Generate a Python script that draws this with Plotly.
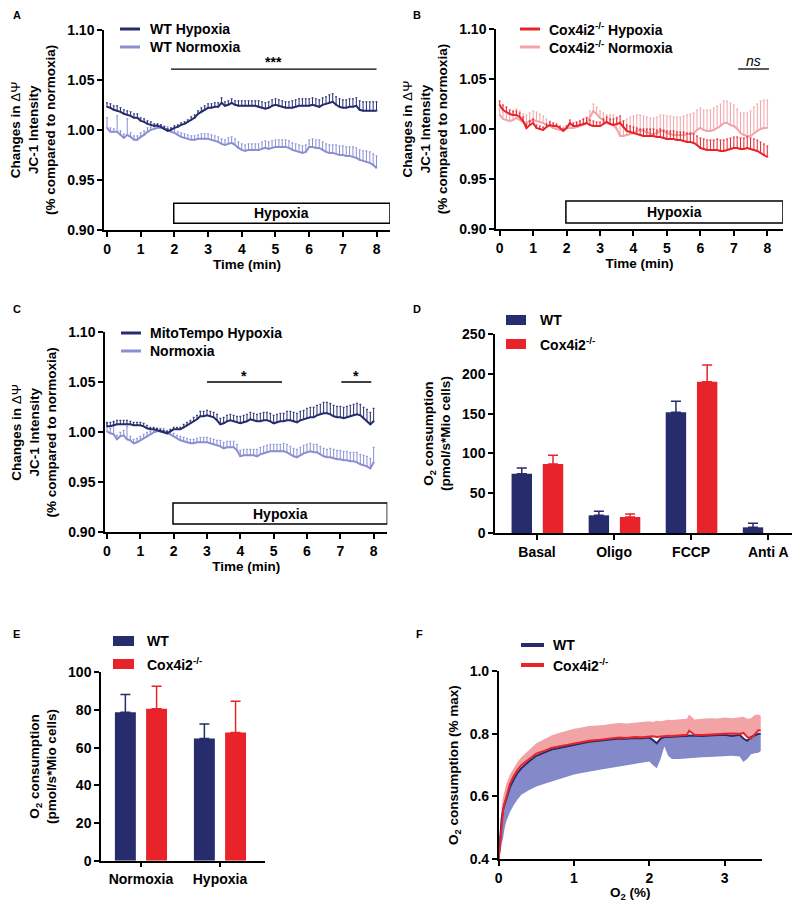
import plotly.graph_objects as go

FONT = "Arial, Liberation Sans, sans-serif"
NAVY = "#262c6c"
LIGHT = "#8a8fd2"
RED = "#e8232a"
PINK = "#f4a3a8"

# ---------------- data ----------------
TIME = [round(i * 0.1, 1) for i in range(81)]

A_HYP = [1.023, 1.022, 1.020, 1.019, 1.018, 1.016, 1.015, 1.014, 1.012, 1.012,
         1.009, 1.008, 1.006, 1.005, 1.004, 1.004, 1.003, 1.001, 0.999, 1.000,
         1.002, 1.003, 1.005, 1.006, 1.008, 1.010, 1.012, 1.016, 1.018, 1.020,
         1.022, 1.022, 1.023, 1.023, 1.027, 1.024, 1.025, 1.027, 1.025, 1.024,
         1.024, 1.024, 1.024, 1.024, 1.024, 1.023, 1.022, 1.021, 1.022, 1.024,
         1.025, 1.024, 1.023, 1.022, 1.022, 1.022, 1.023, 1.024, 1.024, 1.024,
         1.024, 1.025, 1.024, 1.023, 1.025, 1.026, 1.027, 1.028, 1.025, 1.023,
         1.022, 1.022, 1.023, 1.023, 1.024, 1.020, 1.019, 1.019, 1.019, 1.019,
         1.019]
A_HYP_ERR = [0.004, 0.004, 0.004, 0.005, 0.004, 0.004, 0.004, 0.004, 0.004, 0.004,
             0.003, 0.003, 0.003, 0.003, 0.002, 0.002, 0.002, 0.002, 0.002, 0.002,
             0.002, 0.002, 0.002, 0.002, 0.002, 0.003, 0.003, 0.003, 0.004, 0.004,
             0.004, 0.004, 0.004, 0.004, 0.005, 0.004, 0.004, 0.004, 0.004, 0.005,
             0.005, 0.005, 0.005, 0.005, 0.005, 0.006, 0.006, 0.006, 0.006, 0.006,
             0.006, 0.006, 0.006, 0.006, 0.006, 0.007, 0.007, 0.007, 0.007, 0.007,
             0.007, 0.007, 0.007, 0.007, 0.007, 0.007, 0.008, 0.008, 0.008, 0.008,
             0.008, 0.008, 0.008, 0.008, 0.008, 0.009, 0.009, 0.009, 0.009, 0.009,
             0.009]
A_NORM = [1.002, 0.998, 0.998, 0.998, 0.995, 0.992, 0.995, 0.993, 0.990, 0.990,
          0.993, 0.995, 0.998, 1.000, 1.001, 1.002, 1.002, 1.001, 1.000, 0.998,
          0.997, 0.995, 0.993, 0.992, 0.991, 0.990, 0.990, 0.991, 0.991, 0.991,
          0.991, 0.990, 0.989, 0.988, 0.986, 0.985, 0.986, 0.987, 0.985, 0.982,
          0.980, 0.979, 0.980, 0.980, 0.980, 0.980, 0.981, 0.982, 0.981, 0.982,
          0.983, 0.983, 0.983, 0.983, 0.982, 0.980, 0.979, 0.978, 0.977, 0.978,
          0.983, 0.983, 0.982, 0.982, 0.980, 0.978, 0.977, 0.977, 0.976, 0.975,
          0.975, 0.974, 0.974, 0.973, 0.972, 0.970, 0.969, 0.968, 0.967, 0.965,
          0.962]
A_NORM_ERR = [0.010, 0.004, 0.003, 0.016, 0.004, 0.004, 0.016, 0.004, 0.004, 0.004,
              0.004, 0.004, 0.004, 0.003, 0.003, 0.003, 0.003, 0.003, 0.003, 0.003,
              0.003, 0.003, 0.004, 0.004, 0.004, 0.004, 0.004, 0.004, 0.005, 0.005,
              0.005, 0.005, 0.005, 0.005, 0.005, 0.005, 0.006, 0.006, 0.006, 0.006,
              0.006, 0.006, 0.006, 0.006, 0.006, 0.006, 0.007, 0.007, 0.007, 0.007,
              0.007, 0.007, 0.007, 0.007, 0.007, 0.007, 0.007, 0.007, 0.007, 0.007,
              0.007, 0.008, 0.008, 0.008, 0.008, 0.008, 0.008, 0.008, 0.009, 0.009,
              0.009, 0.009, 0.009, 0.010, 0.010, 0.010, 0.010, 0.011, 0.011, 0.011,
              0.012]

B_HYP = [1.024, 1.019, 1.017, 1.015, 1.014, 1.014, 1.012, 1.008, 1.001, 1.004,
         1.006, 1.001, 1.000, 0.999, 1.002, 1.004, 1.003, 1.003, 1.001, 0.998,
         1.001, 1.006, 1.003, 1.003, 1.004, 1.005, 1.006, 1.004, 1.003, 1.003,
         1.003, 1.005, 1.007, 1.005, 1.004, 1.005, 1.006, 1.002, 0.998, 0.997,
         0.996, 0.995, 0.994, 0.993, 0.993, 0.993, 0.993, 0.992, 0.992, 0.991,
         0.990, 0.990, 0.990, 0.989, 0.989, 0.988, 0.987, 0.987, 0.986, 0.984,
         0.981, 0.980, 0.979, 0.979, 0.979, 0.979, 0.978, 0.978, 0.979, 0.980,
         0.981, 0.981, 0.980, 0.980, 0.981, 0.980, 0.979, 0.978, 0.976, 0.974,
         0.972]
B_HYP_ERR = [0.004, 0.005, 0.005, 0.004, 0.004, 0.004, 0.004, 0.004, 0.004, 0.004,
             0.004, 0.003, 0.003, 0.003, 0.003, 0.003, 0.003, 0.002, 0.002, 0.002,
             0.002, 0.003, 0.003, 0.004, 0.004, 0.005, 0.005, 0.005, 0.005, 0.004,
             0.004, 0.005, 0.005, 0.005, 0.006, 0.006, 0.007, 0.006, 0.006, 0.006,
             0.006, 0.006, 0.006, 0.007, 0.007, 0.007, 0.007, 0.007, 0.008, 0.008,
             0.008, 0.008, 0.008, 0.008, 0.008, 0.009, 0.009, 0.009, 0.009, 0.009,
             0.010, 0.010, 0.010, 0.010, 0.010, 0.011, 0.011, 0.011, 0.011, 0.011,
             0.011, 0.011, 0.011, 0.011, 0.011, 0.011, 0.011, 0.011, 0.011, 0.011,
             0.011]
B_NORM = [1.014, 1.010, 1.009, 1.008, 1.009, 1.011, 1.009, 1.007, 1.006, 1.008,
          1.009, 1.008, 1.007, 1.006, 1.004, 1.003, 1.001, 1.000, 0.999, 1.000,
          1.001, 1.001, 1.001, 1.002, 1.003, 1.004, 1.006, 1.012, 1.018, 1.015,
          1.011, 1.009, 1.006, 1.005, 1.004, 1.000, 0.993, 0.993, 0.994, 0.995,
          0.996, 0.998, 0.999, 0.998, 0.997, 0.995, 0.995, 0.996, 0.998, 0.998,
          0.996, 0.995, 0.994, 0.994, 0.994, 0.994, 0.995, 0.995, 0.996, 0.999,
          1.001, 0.999, 0.998, 0.998, 0.999, 1.001, 1.003, 1.006, 1.006, 1.004,
          1.003, 1.000, 0.996, 0.994, 0.993, 0.993, 0.996, 0.998, 1.000, 1.001,
          1.001]
B_NORM_ERR = [0.007, 0.007, 0.008, 0.008, 0.008, 0.009, 0.009, 0.008, 0.008, 0.008,
              0.009, 0.009, 0.008, 0.007, 0.006, 0.005, 0.004, 0.003, 0.002, 0.002,
              0.002, 0.003, 0.003, 0.004, 0.005, 0.006, 0.006, 0.006, 0.007, 0.007,
              0.007, 0.007, 0.008, 0.009, 0.010, 0.012, 0.014, 0.015, 0.016, 0.017,
              0.017, 0.016, 0.015, 0.015, 0.015, 0.016, 0.016, 0.016, 0.016, 0.016,
              0.017, 0.018, 0.018, 0.018, 0.018, 0.019, 0.019, 0.020, 0.020, 0.020,
              0.020, 0.020, 0.021, 0.021, 0.022, 0.022, 0.022, 0.022, 0.022, 0.022,
              0.021, 0.020, 0.020, 0.022, 0.023, 0.025, 0.026, 0.027, 0.028, 0.028,
              0.028]

C_HYP = [1.006, 1.006, 1.007, 1.008, 1.008, 1.008, 1.008, 1.008, 1.007, 1.007,
         1.007, 1.006, 1.004, 1.003, 1.003, 1.002, 1.001, 1.000, 0.999, 1.001,
         1.003, 1.003, 1.003, 1.005, 1.007, 1.009, 1.011, 1.013, 1.016, 1.016,
         1.017, 1.016, 1.015, 1.012, 1.008, 1.009, 1.011, 1.012, 1.011, 1.010,
         1.009, 1.010, 1.011, 1.013, 1.012, 1.011, 1.011, 1.012, 1.012, 1.011,
         1.009, 1.010, 1.011, 1.011, 1.012, 1.012, 1.011, 1.010, 1.012, 1.013,
         1.014, 1.015, 1.015, 1.017, 1.018, 1.019, 1.019, 1.018, 1.016, 1.015,
         1.015, 1.014, 1.015, 1.016, 1.017, 1.018, 1.017, 1.014, 1.011, 1.008,
         1.011]
C_HYP_ERR = [0.004, 0.004, 0.004, 0.004, 0.004, 0.004, 0.004, 0.003, 0.003, 0.003,
             0.003, 0.003, 0.003, 0.002, 0.002, 0.002, 0.002, 0.002, 0.002, 0.002,
             0.002, 0.002, 0.002, 0.003, 0.003, 0.003, 0.004, 0.004, 0.005, 0.005,
             0.005, 0.005, 0.005, 0.006, 0.006, 0.006, 0.006, 0.006, 0.006, 0.006,
             0.007, 0.007, 0.007, 0.007, 0.007, 0.007, 0.008, 0.008, 0.008, 0.008,
             0.008, 0.008, 0.008, 0.008, 0.009, 0.009, 0.009, 0.009, 0.009, 0.009,
             0.010, 0.010, 0.010, 0.010, 0.010, 0.011, 0.011, 0.011, 0.011, 0.011,
             0.011, 0.011, 0.011, 0.011, 0.011, 0.011, 0.011, 0.011, 0.012, 0.012,
             0.013]
C_NORM = [1.001, 0.999, 0.998, 0.993, 0.996, 0.997, 0.993, 0.992, 0.989, 0.990,
          0.992, 0.994, 0.996, 0.998, 1.000, 1.001, 1.001, 1.001, 0.999, 0.998,
          0.996, 0.994, 0.992, 0.991, 0.990, 0.989, 0.989, 0.990, 0.990, 0.990,
          0.990, 0.989, 0.988, 0.987, 0.986, 0.984, 0.985, 0.985, 0.985, 0.982,
          0.976, 0.977, 0.977, 0.977, 0.977, 0.976, 0.978, 0.979, 0.980, 0.981,
          0.981, 0.981, 0.981, 0.981, 0.980, 0.978, 0.976, 0.975, 0.977, 0.979,
          0.980, 0.981, 0.980, 0.980, 0.978, 0.976, 0.975, 0.975, 0.974, 0.973,
          0.973, 0.972, 0.972, 0.971, 0.971, 0.970, 0.968, 0.967, 0.966, 0.964,
          0.970]
C_NORM_ERR = [0.008, 0.005, 0.012, 0.004, 0.004, 0.005, 0.013, 0.004, 0.004, 0.004,
              0.004, 0.004, 0.004, 0.003, 0.003, 0.003, 0.003, 0.003, 0.003, 0.003,
              0.003, 0.003, 0.004, 0.004, 0.004, 0.004, 0.004, 0.004, 0.005, 0.005,
              0.005, 0.005, 0.005, 0.005, 0.006, 0.006, 0.006, 0.006, 0.006, 0.006,
              0.006, 0.006, 0.006, 0.006, 0.006, 0.007, 0.007, 0.007, 0.007, 0.007,
              0.007, 0.007, 0.007, 0.008, 0.008, 0.008, 0.008, 0.008, 0.008, 0.008,
              0.008, 0.008, 0.008, 0.008, 0.008, 0.008, 0.008, 0.009, 0.009, 0.009,
              0.009, 0.009, 0.009, 0.009, 0.009, 0.010, 0.010, 0.010, 0.010, 0.010,
              0.015]

D_CATS = ["Basal", "Oligo", "FCCP", "Anti A"]
D_WT = [74.5, 22.2, 151.6, 7.1]
D_WT_ERR = [7.2, 5.0, 13.8, 5.1]
D_KO = [86.7, 20.1, 190.0, None]
D_KO_ERR = [10.9, 3.8, 21.0, None]

E_CATS = ["Normoxia", "Hypoxia"]
E_WT = [78.8, 64.8]
E_WT_ERR = [9.4, 7.8]
E_KO = [80.7, 68.1]
E_KO_ERR = [11.9, 16.5]

F_O2 = [0, 0.02, 0.04, 0.06, 0.08, 0.1, 0.15, 0.2, 0.25, 0.3, 0.4, 0.5, 0.6, 0.7,
        0.8, 0.9, 1.0, 1.1, 1.2, 1.3, 1.4, 1.5, 1.6, 1.7, 1.8, 1.9, 2.0, 2.05,
        2.1, 2.15, 2.2, 2.25, 2.3, 2.4, 2.5, 2.53, 2.6, 2.7, 2.8, 2.9, 3.0,
        3.1, 3.2, 3.25, 3.3, 3.35, 3.4, 3.45, 3.48]
F_KO = [0.40, 0.45, 0.52, 0.56, 0.58, 0.60, 0.64, 0.665, 0.685, 0.70, 0.72, 0.737,
        0.745, 0.755, 0.76, 0.765, 0.77, 0.774, 0.778, 0.78, 0.782, 0.785, 0.788,
        0.787, 0.79, 0.789, 0.792, 0.792, 0.79, 0.792, 0.793, 0.794, 0.793, 0.795,
        0.797, 0.81, 0.797, 0.796, 0.798, 0.799, 0.80, 0.801, 0.80, 0.803, 0.79,
        0.785, 0.80, 0.812, 0.81]
F_KO_UP = [0.42, 0.50, 0.57, 0.60, 0.62, 0.64, 0.67, 0.69, 0.71, 0.725, 0.748, 0.77,
           0.782, 0.795, 0.803, 0.81, 0.816, 0.82, 0.825, 0.827, 0.828, 0.832, 0.835,
           0.833, 0.836, 0.838, 0.84, 0.838, 0.842, 0.84, 0.843, 0.845, 0.844, 0.845,
           0.848, 0.862, 0.846, 0.848, 0.85, 0.849, 0.852, 0.85, 0.853, 0.855, 0.848,
           0.85, 0.86, 0.862, 0.858]
F_WT = [0.40, 0.47, 0.53, 0.56, 0.575, 0.59, 0.63, 0.655, 0.675, 0.69, 0.712, 0.73,
        0.74, 0.75, 0.755, 0.76, 0.765, 0.77, 0.775, 0.777, 0.78, 0.782, 0.785,
        0.784, 0.787, 0.786, 0.788, 0.78, 0.77, 0.785, 0.79, 0.79, 0.79, 0.792,
        0.793, 0.795, 0.794, 0.793, 0.795, 0.795, 0.797, 0.793, 0.797, 0.785, 0.778,
        0.79, 0.795, 0.80, 0.80]
F_WT_LO = [0.40, 0.42, 0.44, 0.47, 0.50, 0.52, 0.55, 0.573, 0.59, 0.605, 0.62, 0.632,
           0.64, 0.648, 0.655, 0.662, 0.67, 0.675, 0.68, 0.684, 0.688, 0.692, 0.697,
           0.70, 0.704, 0.708, 0.712, 0.70, 0.69, 0.72, 0.76, 0.73, 0.72, 0.72,
           0.722, 0.723, 0.724, 0.725, 0.726, 0.727, 0.728, 0.73, 0.728, 0.71, 0.72,
           0.735, 0.738, 0.74, 0.745]

# ---------------- figure ----------------
fig = go.Figure()


def ts_trace(y, err, color, xa, ya):
    return go.Scatter(
        x=TIME, y=y, mode="lines", xaxis=xa, yaxis=ya, showlegend=False,
        line=dict(color=color, width=2),
        error_y=dict(type="data", symmetric=False, array=err,
                     arrayminus=[0] * len(err), color=color, thickness=1, width=1),
    )


fig.add_trace(ts_trace(A_NORM, A_NORM_ERR, LIGHT, "x", "y"))
fig.add_trace(ts_trace(A_HYP, A_HYP_ERR, NAVY, "x", "y"))
fig.add_trace(ts_trace(B_NORM, B_NORM_ERR, PINK, "x2", "y2"))
fig.add_trace(ts_trace(B_HYP, B_HYP_ERR, RED, "x2", "y2"))
fig.add_trace(ts_trace(C_NORM, C_NORM_ERR, LIGHT, "x3", "y3"))
fig.add_trace(ts_trace(C_HYP, C_HYP_ERR, NAVY, "x3", "y3"))


def bar_trace(cats, vals, errs, color, off, xa, ya):
    return go.Bar(
        x=cats, y=vals, xaxis=xa, yaxis=ya, showlegend=False,
        marker=dict(color=color, line=dict(width=0)), width=0.265, offset=off,
        error_y=dict(type="data", symmetric=False, array=errs,
                     arrayminus=[0] * len(errs), color=color, thickness=1.5, width=5),
    )


fig.add_trace(bar_trace(D_CATS, D_WT, D_WT_ERR, NAVY, -0.33, "x4", "y4"))
fig.add_trace(bar_trace(D_CATS, D_KO, D_KO_ERR, RED, 0.075, "x4", "y4"))
fig.add_trace(bar_trace(E_CATS, E_WT, E_WT_ERR, NAVY, -0.33, "x5", "y5"))
fig.add_trace(bar_trace(E_CATS, E_KO, E_KO_ERR, RED, 0.065, "x5", "y5"))

# panel F bands and lines
fig.add_trace(go.Scatter(x=F_O2, y=F_KO_UP, mode="lines", line=dict(width=0, color=PINK),
                         xaxis="x6", yaxis="y6", showlegend=False, hoverinfo="skip"))
fig.add_trace(go.Scatter(x=F_O2, y=F_KO, mode="lines", line=dict(width=0, color=PINK),
                         fill="tonexty", fillcolor="#f2a3a6",
                         xaxis="x6", yaxis="y6", showlegend=False, hoverinfo="skip"))
fig.add_trace(go.Scatter(x=F_O2, y=F_WT_LO, mode="lines", line=dict(width=0, color=LIGHT),
                         xaxis="x6", yaxis="y6", showlegend=False, hoverinfo="skip"))
fig.add_trace(go.Scatter(x=F_O2, y=F_WT, mode="lines", line=dict(width=0, color=LIGHT),
                         fill="tonexty", fillcolor="#8489c9",
                         xaxis="x6", yaxis="y6", showlegend=False, hoverinfo="skip"))
fig.add_trace(go.Scatter(x=F_O2, y=F_WT, mode="lines", line=dict(width=2, color=NAVY),
                         xaxis="x6", yaxis="y6", showlegend=False, name="WT"))
fig.add_trace(go.Scatter(x=F_O2, y=F_KO, mode="lines", line=dict(width=2, color=RED),
                         xaxis="x6", yaxis="y6", showlegend=False, name="Cox4i2-/-"))

# ---------------- axes ----------------
TICKFONT = dict(family=FONT, size=14, color="black", weight="bold")
TITLEFONT = dict(family=FONT, size=13.5, color="black", weight="bold")


def xax(domain, rng, anchor, title=None, standoff=4, **kw):
    d = dict(domain=domain, range=rng, anchor=anchor, showline=True, linecolor="black",
             linewidth=1.5, ticks="outside", ticklen=5, tickwidth=1.5, tickcolor="black",
             showgrid=False, zeroline=False, tickfont=TICKFONT, automargin=False)
    if title:
        d["title"] = dict(text=title, font=TITLEFONT, standoff=standoff)
    d.update(kw)
    return d


def yax(domain, rng, anchor, title, standoff=8, **kw):
    d = dict(domain=domain, range=rng, anchor=anchor, showline=True, linecolor="black",
             linewidth=1.5, ticks="outside", ticklen=5, tickwidth=1.5, tickcolor="black",
             showgrid=False, zeroline=False, tickfont=TICKFONT, automargin=False,
             title=dict(text=title, font=TITLEFONT, standoff=standoff))
    d.update(kw)
    return d


JC1 = ("Changes in <span style='font-weight:normal'>\u0394\u03a8</span><br>"
       "JC-1 Intensity<br>(% compared to normoxia)")
O2C = "O<sub>2</sub> consumption<br>(pmol/s*Mio cells)"
JC_TICKS = [0.90, 0.95, 1.00, 1.05, 1.10]

fig.update_layout(
    xaxis=xax([0.12, 0.4775], [-0.09, 8.40], "y", "Time (min)", tickvals=list(range(9))),
    yaxis=yax([0.75333, 0.97589], [0.9, 1.1], "x", JC1, tickvals=JC_TICKS, tickformat=".2f"),
    xaxis2=xax([0.61, 0.96875], [-0.11, 8.47], "y2", "Time (min)", tickvals=list(range(9))),
    yaxis2=yax([0.75444, 0.97667], [0.9, 1.1], "x2", JC1, tickvals=JC_TICKS, tickformat=".2f"),
    xaxis3=xax([0.12125, 0.47413], [-0.06, 8.41], "y3", "Time (min)", tickvals=list(range(9))),
    yaxis3=yax([0.41744, 0.63967], [0.9, 1.1], "x3", JC1, tickvals=JC_TICKS, tickformat=".2f"),
    xaxis4=xax([0.60875, 0.9975], [-0.545, 3.49], "y4", type="category"),
    yaxis4=yax([0.41667, 0.63778], [0, 250], "x4", O2C, tickvals=[0, 50, 100, 150, 200, 250]),
    xaxis5=xax([0.11625, 0.32125], [-0.506, 1.57], "y5", type="category"),
    yaxis5=yax([0.05256, 0.26189], [0, 100], "x5", O2C, tickvals=[0, 20, 40, 60, 80, 100]),
    xaxis6=xax([0.61338, 0.9425], [0, 3.497], "y6", tickvals=[0, 1, 2, 3]),
    yaxis6=yax([0.05444, 0.263], [0.4, 1.0], "x6", "O<sub>2</sub> consumption (% max)",
               tickvals=[0.4, 0.6, 0.8, 1.0], tickformat=".1f"),
)

# ---------------- shapes / annotations ----------------
shapes = []
ann = []

# x-axis title of panel F (placed to stay inside the page)
ann.append(dict(xref="x6 domain", yref="paper", x=0.5, y=1 - 885 / 900,
                text="<b>O<sub>2</sub> (%)</b>", showarrow=False, yanchor="middle",
                font=TITLEFONT))

# Hypoxia boxes
for xr, yr, x0, x1, y0, y1 in [("x", "y", 1.98, 8.40, 0.9067, 0.9267),
                               ("x2", "y2", 1.98, 8.47, 0.906, 0.928),
                               ("x3", "y3", 1.98, 8.41, 0.9083, 0.9293)]:
    shapes.append(dict(type="rect", xref=xr, yref=yr, x0=x0, x1=x1, y0=y0, y1=y1,
                       line=dict(color="black", width=1.5), fillcolor="white", layer="above"))
    ann.append(dict(xref=xr, yref=yr, x=(x0 + x1) / 2, y=(y0 + y1) / 2, text="<b>Hypoxia</b>",
                    showarrow=False, font=dict(family=FONT, size=14, color="black")))

# significance bars
for xr, yr, x0, x1, y, txt, ty in [("x", "y", 1.9, 8.0, 1.0607, "<b>***</b>", 1.0675),
                                   ("x2", "y2", 7.13, 8.05, 1.06, "<i>ns</i>", 1.068),
                                   ("x3", "y3", 3.0, 5.25, 1.0503, "<b>*</b>", 1.0565),
                                   ("x3", "y3", 7.03, 7.93, 1.0503, "<b>*</b>", 1.0565)]:
    shapes.append(dict(type="line", xref=xr, yref=yr, x0=x0, x1=x1, y0=y, y1=y,
                       line=dict(color="black", width=1.3)))
    ann.append(dict(xref=xr, yref=yr, x=(x0 + x1) / 2, y=ty, text=txt, showarrow=False,
                    font=dict(family=FONT, size=14, color="black")))

# panel letters
for txt, x, y in [("A", 3, 7), ("B", 403, 7), ("C", 3, 301), ("D", 403, 301),
                  ("E", 3, 626), ("F", 406, 626)]:
    ann.append(dict(xref="paper", yref="paper", x=x / 800, y=1 - y / 900, text=f"<b>{txt}</b>",
                    showarrow=False, xanchor="left", yanchor="middle",
                    font=dict(family=FONT, size=11, color="black")))

# legends (manual)
LEGFONT = dict(family=FONT, size=14, color="black")


def line_legend(items, x0, x1, xt):
    for label, color, ypx, w in items:
        yp = 1 - ypx / 900
        shapes.append(dict(type="line", xref="paper", yref="paper", x0=x0 / 800, x1=x1 / 800,
                           y0=yp, y1=yp, line=dict(color=color, width=w)))
        ann.append(dict(xref="paper", yref="paper", x=xt / 800, y=yp, text=f"<b>{label}</b>",
                        showarrow=False, xanchor="left", yanchor="middle", font=LEGFONT))


def box_legend(items, x0, x1, xt):
    for label, color, ytop, ybot in items:
        shapes.append(dict(type="rect", xref="paper", yref="paper", x0=x0 / 800, x1=x1 / 800,
                           y0=1 - ybot / 900, y1=1 - ytop / 900, line=dict(width=0),
                           fillcolor=color))
        ann.append(dict(xref="paper", yref="paper", x=xt / 800, y=1 - (ytop + ybot) / 2 / 900,
                        text=f"<b>{label}</b>", showarrow=False, xanchor="left",
                        yanchor="middle", font=LEGFONT))


KO = "Cox4i2<sup>-/-</sup>"
line_legend([("WT Hypoxia", NAVY, 21, 3), ("WT Normoxia", LIGHT, 39, 3)], 112, 132, 140)
line_legend([(KO + " Hypoxia", RED, 21, 3), (KO + " Normoxia", PINK, 39, 3)], 512, 532, 539)
line_legend([("MitoTempo Hypoxia", NAVY, 325, 3), ("Normoxia", LIGHT, 343, 3)], 113, 133, 140)
box_legend([("WT", NAVY, 307, 317), (KO, RED, 331, 341)], 498, 518, 530)
box_legend([("WT", NAVY, 628, 638), (KO, RED, 651, 661)], 105, 126, 137)
line_legend([("WT", NAVY, 637, 4), (KO, RED, 657, 4)], 513, 536, 543)

fig.update_layout(
    width=800, height=900, template="none",
    margin=dict(l=0, r=0, t=0, b=0, autoexpand=False),
    paper_bgcolor="white", plot_bgcolor="white",
    shapes=shapes, annotations=ann, showlegend=False,
    font=dict(family=FONT, color="black"),
)

fig.write_html("out.html")
